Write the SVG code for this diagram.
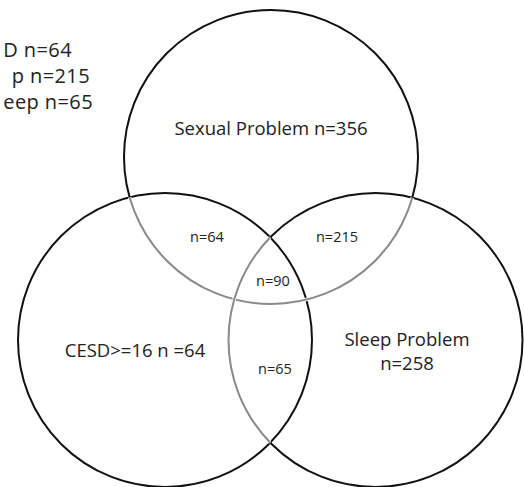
<svg xmlns="http://www.w3.org/2000/svg" width="524" height="487" viewBox="0 0 524 487">
<style>
.c{fill:none;stroke:#111;stroke-width:2}
.g{fill:none;stroke:#8a8a8a;stroke-width:2}
.w{fill:none;stroke:#fff;stroke-width:3.5}
.t{font-family:"Open Sans","Noto Sans","Liberation Sans",sans-serif;fill:#222}
.big{font-size:18.5px}
.sm{font-size:14.5px}
.lg{font-size:20px;letter-spacing:0.4px}
</style>
<defs>
<clipPath id="lr"><circle cx="165" cy="340" r="147"/><circle cx="375.5" cy="340" r="147"/></clipPath>
<clipPath id="l"><circle cx="165" cy="340" r="147"/></clipPath>
</defs>
<rect width="524" height="487" fill="#fff"/>
<g id="legend" class="t lg">
<text x="72" y="57" text-anchor="end">D n=64</text>
<text x="90" y="83" text-anchor="end">p n=215</text>
<text x="93" y="109" text-anchor="end">eep n=65</text>
</g>
<g id="connectors">
<circle class="c" cx="271" cy="157" r="147"/>
<circle class="c" cx="165" cy="340" r="147"/>
<circle class="c" cx="375.5" cy="340" r="147"/>
<circle class="w" cx="271" cy="157" r="147" clip-path="url(#lr)"/>
<circle class="g" cx="271" cy="157" r="147" clip-path="url(#lr)"/>
<circle class="w" cx="375.5" cy="340" r="147" clip-path="url(#l)"/>
<circle class="g" cx="375.5" cy="340" r="147" clip-path="url(#l)"/>
</g>
<g id="sexual"><text class="t big" x="271" y="135" text-anchor="middle">Sexual Problem n=356</text></g>
<g id="cesd"><text class="t big" x="135" y="357" text-anchor="middle">CESD&gt;=16 n =64</text></g>
<g id="sleep"><text class="t big" x="407" y="346" text-anchor="middle">Sleep Problem</text><text class="t big" x="407" y="370" text-anchor="middle">n=258</text></g>
<g id="sex-cesd"><text class="t sm" x="207" y="242" text-anchor="middle">n=64</text></g>
<g id="sex-sleep"><text class="t sm" x="337" y="242" text-anchor="middle">n=215</text></g>
<g id="all"><text class="t sm" x="273" y="286" text-anchor="middle">n=90</text></g>
<g id="cesd-sleep"><text class="t sm" x="275" y="374" text-anchor="middle">n=65</text></g>
</svg>
